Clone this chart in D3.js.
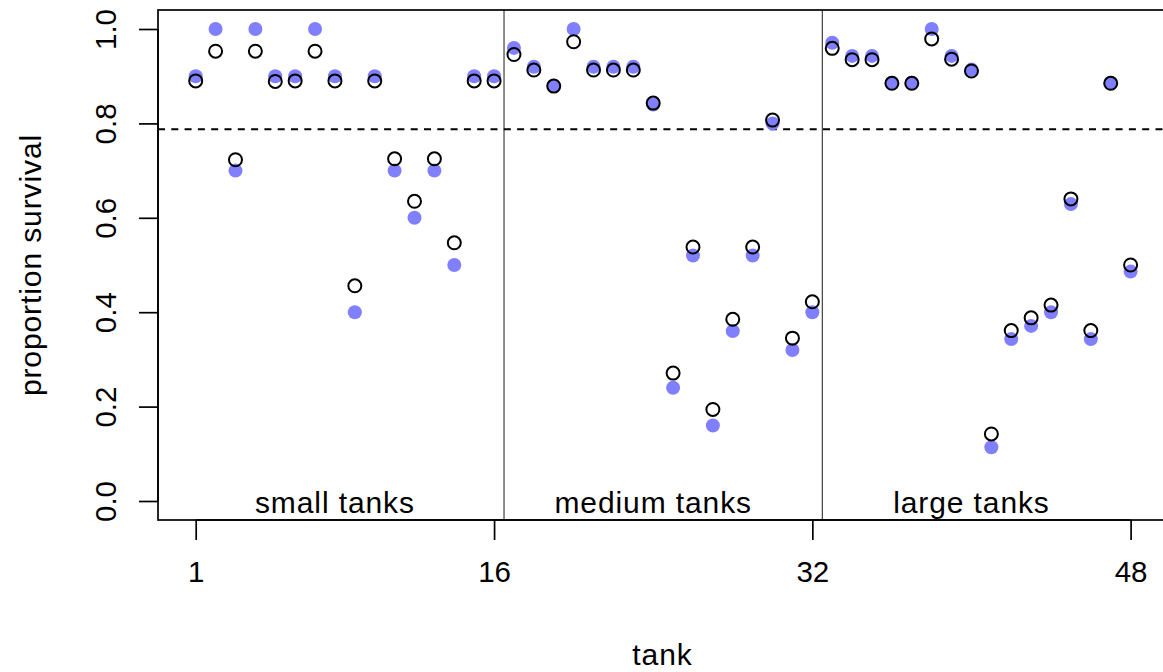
<!DOCTYPE html>
<html>
<head>
<meta charset="utf-8">
<script src="https://cdn.jsdelivr.net/npm/d3@7"></script>
<style>
  body { margin: 0; background: #fff; }
  text { font-family: "Liberation Sans", Arial, sans-serif; fill: #000; }
  .word { font-size: 30px; letter-spacing: 0.9px; }
</style>
</head>
<body>
<svg id="chart" width="1163" height="672"></svg>
<script>
// observed proportion surviving in each tank
var tanks = d3.range(1, 49);
var propsurv = [0.9, 1.0, 0.7, 1.0, 0.9, 0.9, 1.0, 0.9, 0.4, 0.9, 0.7, 0.6, 0.7, 0.5, 0.9, 0.9,
                0.96, 0.92, 0.88, 1.0, 0.92, 0.92, 0.92, 0.84, 0.24, 0.52, 0.16, 0.36, 0.52, 0.8, 0.32, 0.4,
                0.971, 0.943, 0.943, 0.886, 0.886, 1.0, 0.943, 0.914, 0.114, 0.343, 0.371, 0.4, 0.629, 0.343, 0.886, 0.486];
// posterior mean survival per tank
var postMean = [0.890, 0.953, 0.723, 0.953, 0.889, 0.890, 0.953, 0.890, 0.456, 0.890, 0.725, 0.635, 0.725, 0.547, 0.890, 0.890,
                0.946, 0.913, 0.879, 0.973, 0.913, 0.913, 0.913, 0.843, 0.271, 0.538, 0.194, 0.385, 0.538, 0.807, 0.345, 0.422,
                0.959, 0.935, 0.935, 0.885, 0.885, 0.979, 0.936, 0.911, 0.142, 0.361, 0.388, 0.415, 0.640, 0.361, 0.885, 0.500];
var grandMean = 0.7875;
var xTicks = [1, 16, 32, 48];
var yTicks = [0, 0.2, 0.4, 0.6, 0.8, 1.0];
var dividers = [16.5, 32.5];
var groupLabels = ['small tanks', 'medium tanks', 'large tanks'];
var groupCenters = [8, 24, 40];

var svg = d3.select('#chart');
var box = { left: 158, right: 1167, top: 10, bottom: 520 };

var x = d3.scaleLinear().domain([1, 48]).range([195.7, 1130.6]);
var y = d3.scaleLinear().domain([0, 1]).range([501, 29]);

// plot frame
svg.append('rect')
  .attr('x', box.left).attr('y', box.top)
  .attr('width', box.right - box.left).attr('height', box.bottom - box.top)
  .attr('fill', 'none').attr('stroke', '#000').attr('stroke-width', 1.7);

// axes
var xAxis = svg.append('g')
  .attr('transform', 'translate(0,' + box.bottom + ')')
  .call(d3.axisBottom(x).tickValues(xTicks).tickFormat(d3.format('d')).tickSize(20).tickPadding(12));
var yAxis = svg.append('g')
  .attr('transform', 'translate(' + box.left + ',0)')
  .call(d3.axisLeft(y).tickValues(yTicks).tickFormat(d3.format('.1f')).tickSize(19).tickPadding(0));

[xAxis, yAxis].forEach(function(g) {
  g.select('.domain').attr('stroke-width', 1.7);
  g.selectAll('.tick line').attr('stroke-width', 1.7);
  g.selectAll('text').style('font-size', '29.5px').attr('fill', '#000');
});
xAxis.select('.domain').attr('d', 'M' + x(1) + ',0H' + x(48));
yAxis.select('.domain').attr('d', 'M0,' + y(0) + 'V' + y(1));
xAxis.selectAll('.tick text').attr('y', 41).attr('dy', '0.71em');
yAxis.selectAll('.tick text')
  .attr('x', null).attr('dy', null)
  .attr('text-anchor', 'middle')
  .attr('transform', 'translate(-42,0) rotate(-90)');

// dividers between tank sizes
svg.selectAll('.divider')
  .data(dividers)
  .enter().append('line')
  .attr('class', 'divider')
  .attr('x1', function(d) { return x(d); }).attr('x2', function(d) { return x(d); })
  .attr('y1', box.top).attr('y2', box.bottom)
  .attr('stroke', '#000').attr('stroke-width', 0.9);

// grand mean
svg.append('line')
  .attr('x1', box.left).attr('x2', box.right)
  .attr('y1', y(grandMean)).attr('y2', y(grandMean))
  .attr('stroke', '#000').attr('stroke-width', 2)
  .attr('stroke-dasharray', '7,6.3');

// observed points
svg.selectAll('.obs')
  .data(tanks)
  .enter().append('circle')
  .attr('class', 'obs')
  .attr('cx', function(d) { return x(d); })
  .attr('cy', function(d, i) { return y(propsurv[i]); })
  .attr('r', 7)
  .attr('fill', '#8080FF');

// posterior means
svg.selectAll('.est')
  .data(tanks)
  .enter().append('circle')
  .attr('class', 'est')
  .attr('cx', function(d) { return x(d); })
  .attr('cy', function(d, i) { return y(postMean[i]); })
  .attr('r', 6.5)
  .attr('fill', 'none')
  .attr('stroke', '#000').attr('stroke-width', 2);

// group labels
svg.selectAll('.grp')
  .data(groupLabels)
  .enter().append('text')
  .attr('class', 'grp word')
  .attr('x', function(d, i) { return x(groupCenters[i]); })
  .attr('y', 513)
  .attr('text-anchor', 'middle')
  .text(function(d) { return d; });

// axis titles
svg.append('text')
  .attr('class', 'word')
  .attr('x', (box.left + box.right) / 2).attr('y', 665)
  .attr('text-anchor', 'middle')
  .text('tank');
svg.append('text')
  .attr('class', 'word')
  .attr('transform', 'translate(41,' + ((box.top + box.bottom) / 2) + ') rotate(-90)')
  .attr('text-anchor', 'middle')
  .text('proportion survival');
</script>
</body>
</html>
